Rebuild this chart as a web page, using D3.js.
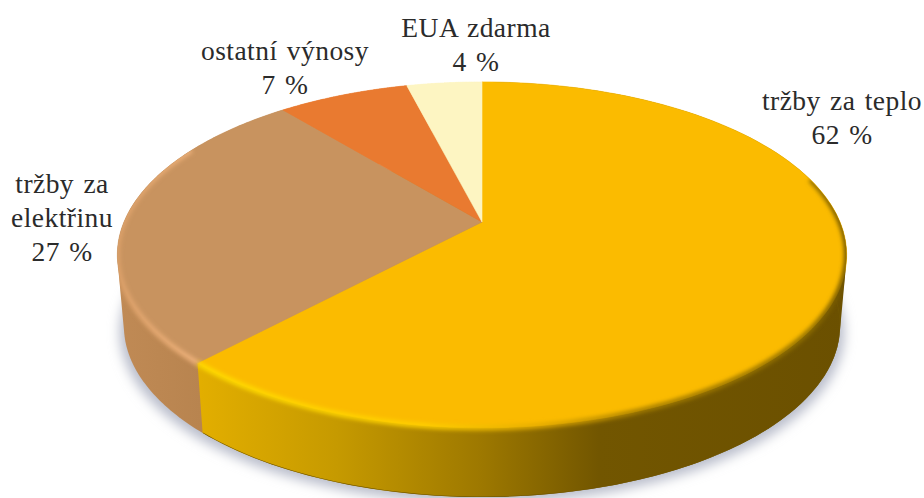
<!DOCTYPE html>
<html>
<head>
<meta charset="utf-8">
<script src="https://cdn.jsdelivr.net/npm/d3@7"></script>
<style>
html,body{margin:0;padding:0;background:#fff}
svg{display:block}
text{font-family:"Liberation Serif",serif;font-size:27.5px;fill:#2b2b2b;text-anchor:middle;word-spacing:2px;letter-spacing:.45px}
</style>
</head>
<body>
<svg id="chart" width="924" height="498"></svg>
<script>
// Revenue shares
const categories = ["tržby za teplo", "tržby za elektřinu", "ostatní výnosy", "EUA zdarma"];
const shares = [62, 27, 7, 4];
const topFill = ["#fbbb00", "#c8935f", "#e97a30", "#fdf5c2"];

// Label placement: one entry per category
const labelLayout = [
  {x: 842, y: 110, lines: ["tržby za teplo"]},
  {x: 62, y: 193, lines: ["tržby za", "elektřinu"]},
  {x: 285, y: 60, lines: ["ostatní výnosy"]},
  {x: 476, y: 37, lines: ["EUA zdarma"]}
];
const lineGap = 34;

// Disc seen from above with a perspective: z runs from the back rim (-1) to the front rim (+1)
const view = {cx: 482, apexY: 222, midY: 255, spanX: 358, spanY: 166.7, depth: 0.19, thickness: 71, baseX: 0.982, baseY: 0.99};
const xScale = d3.scaleLinear().domain([-1, 1]).range([view.cx - view.spanX, view.cx + view.spanX]);
const yScale = d3.scaleLinear().domain([-1, 1]).range([view.apexY - view.spanY, view.apexY + view.spanY]);

function project(u, z) {
  const w = 1 - view.depth * z;
  return [xScale(u / w), yScale(z / w)];
}
const rimPoint = a => project(Math.sin(a), -Math.cos(a));
const basePoint = a => {
  const [x, y] = rimPoint(a);
  return [view.cx + (x - view.cx) * view.baseX, view.midY + (y - view.midY) * view.baseY + view.thickness];
};
const arcAngles = (a0, a1) => d3.range(0, 121).map(i => a0 + (a1 - a0) * i / 120);

const pieLayout = d3.pie().sort(null)(shares);
const line = d3.line();
const closed = pts => line(pts) + "Z";
const svg = d3.select("#chart");
const defs = svg.append("defs");

defs.append("filter").attr("id", "shadowBlur").attr("filterUnits", "userSpaceOnUse")
  .attr("x", 0).attr("y", 0).attr("width", 924).attr("height", 560)
  .append("feGaussianBlur").attr("stdDeviation", 6);
defs.append("filter").attr("id", "bevelBlur").attr("filterUnits", "userSpaceOnUse")
  .attr("x", 0).attr("y", 0).attr("width", 924).attr("height", 498)
  .append("feGaussianBlur").attr("stdDeviation", 2);

function hGradient(id, stops) {
  const g = defs.append("linearGradient").attr("id", id)
    .attr("gradientUnits", "userSpaceOnUse")
    .attr("x1", 117).attr("x2", 847).attr("y1", 0).attr("y2", 0);
  stops.forEach(([o, c]) => g.append("stop").attr("offset", o).attr("stop-color", c));
}
// Side wall shading falls off towards the right
hGradient("wall0", [[0.115, "#e2ae00"], [0.3, "#c69a00"], [0.5, "#9d7800"], [0.66, "#725600"], [1, "#6b5000"]]);
hGradient("wall1", [[0, "#c08a55"], [0.115, "#b8844f"]]);
hGradient("rim0", [[0.115, "#ffdc00"], [0.42, "#ffd000"], [0.58, "#e3ab00"], [0.72, "#a37c00"], [0.95, "#8f6e00"], [1, "#6e5300"]]);
hGradient("rim1", [[0, "#dda16a"], [0.115, "#f0b37c"]]);

const fullCircle = arcAngles(0, 2 * Math.PI);
const silhouette = d3.polygonHull(fullCircle.map(rimPoint).concat(fullCircle.map(basePoint)));
defs.append("clipPath").attr("id", "discClip").append("path").attr("d", closed(silhouette));

// Drop shadow under the disc
svg.append("path")
  .attr("d", closed(fullCircle.map(basePoint).map(([x, y]) => [view.cx + (x - view.cx) * 1.012, y + 6])))
  .attr("fill", "#b9bdcb")
  .attr("filter", "url(#shadowBlur)");

// Side walls, nearest slice painted last
svg.append("g").selectAll("path").data(pieLayout.slice().reverse()).join("path")
  .attr("d", d => {
    const a = arcAngles(d.startAngle, d.endAngle);
    return closed(d3.polygonHull(a.map(rimPoint).concat(a.map(basePoint))));
  })
  .attr("fill", d => d.index < 2 ? `url(#wall${d.index})` : topFill[d.index]);

// Dark lower edge of the largest slice's wall
svg.append("path")
  .attr("d", line(arcAngles(pieLayout[0].startAngle + 1.2, pieLayout[0].endAngle).map(basePoint)))
  .attr("fill", "none")
  .attr("stroke", "#6f5400")
  .attr("stroke-width", 1.2)
  .attr("clip-path", "url(#discClip)");

// Top face slices
svg.append("g").selectAll("path").data(pieLayout).join("path")
  .attr("d", d => {
    const a = arcAngles(d.startAngle, d.endAngle);
    return closed([project(0, 0), ...a.map(rimPoint)]);
  })
  .attr("fill", (d, i) => topFill[i])
  .attr("stroke", (d, i) => topFill[i])
  .attr("stroke-width", 0.6);

// Soft bevel along the near part of the rim
const bevelEnds = [1.3, 5.2];
svg.append("g").attr("clip-path", "url(#discClip)")
  .selectAll("path").data(pieLayout.slice(0, 2)).join("path")
  .attr("d", (d, i) => {
    const lo = i === 0 ? Math.max(d.startAngle, bevelEnds[0]) : d.startAngle;
    const hi = i === 1 ? Math.min(d.endAngle, bevelEnds[1]) : d.endAngle;
    return line(arcAngles(lo, hi).map(rimPoint));
  })
  .attr("fill", "none")
  .attr("stroke", (d, i) => `url(#rim${i})`)
  .attr("stroke-width", 5)
  .attr("filter", "url(#bevelBlur)");

// Category names with the share on the following line
const labels = svg.append("g").selectAll("text").data(categories).join("text")
  .attr("x", (d, i) => labelLayout[i].x)
  .attr("y", (d, i) => labelLayout[i].y);
labels.selectAll("tspan")
  .data((d, i) => labelLayout[i].lines.concat(`${shares[i]} %`))
  .join("tspan")
  .attr("x", function () { return this.parentNode.getAttribute("x"); })
  .attr("dy", (d, i) => i ? lineGap : 0)
  .text(d => d);
</script>
</body>
</html>
